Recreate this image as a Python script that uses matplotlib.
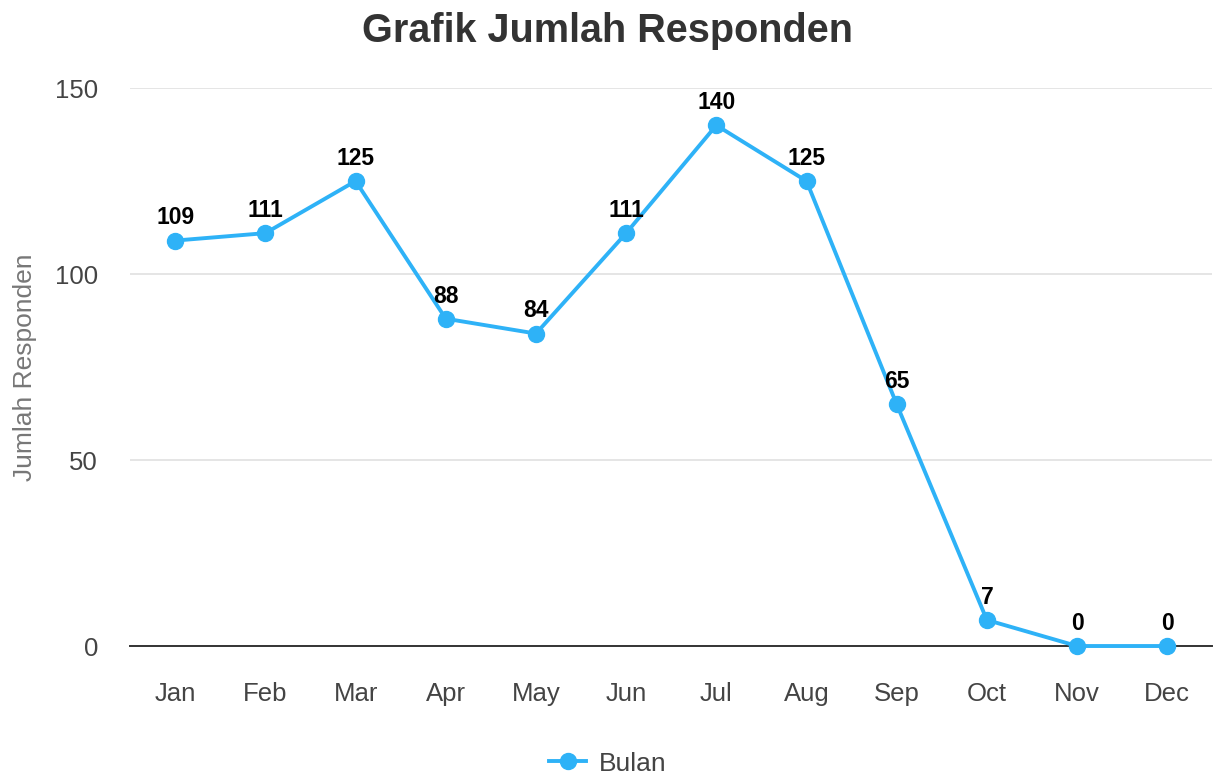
import matplotlib
matplotlib.use("Agg")
import matplotlib.pyplot as plt

months = ["Jan", "Feb", "Mar", "Apr", "May", "Jun", "Jul", "Aug", "Sep", "Oct", "Nov", "Dec"]
responden = [109, 111, 125, 88, 84, 111, 140, 125, 65, 7, 0, 0]
yticks = [0, 50, 100, 150]

plt.rcParams["font.family"] = ["Liberation Sans", "DejaVu Sans"]

color = "#2eb2f7"
fig = plt.figure(figsize=(12.16, 7.76), dpi=100)
ax = fig.add_axes([0.107, 0.1675, 0.890, 0.719])

x = range(len(months))
ax.plot(x, responden, color=color, lw=2.8, marker="o", ms=11.5,
        label="Bulan", clip_on=False, zorder=3)
for xi, v in zip(x, responden):
    ax.annotate(str(v), (xi, v), xytext=(0, 8), textcoords="offset points",
                ha="center", va="bottom", fontsize=16.5, fontweight="bold", color="black")

ax.set_xlim(-0.5, len(months) - 0.5)
ax.set_ylim(0, 150)
ax.set_yticks(yticks)
ax.set_xticks(list(x))
ax.set_xticklabels(months)
ax.tick_params(axis="both", length=0, labelsize=18.5, colors="#444444")
ax.tick_params(axis="x", pad=26)
ax.tick_params(axis="y", pad=23)
ax.grid(axis="y", color="#e0e0e0", lw=1.2)
ax.set_axisbelow(True)
for s in ["top", "right", "left"]:
    ax.spines[s].set_visible(False)
ax.spines["bottom"].set_color("#333333")
ax.spines["bottom"].set_linewidth(1.4)

ax.set_ylabel("Jumlah Responden", fontsize=19, color="#777777", labelpad=13)
fig.suptitle("Grafik Jumlah Responden", fontsize=28.5, fontweight="bold", color="#333333", y=0.985)

fig.legend(loc="lower center", bbox_to_anchor=(0.5, -0.03), frameon=False, fontsize=19,
           handlelength=1.4, handletextpad=0.5, labelcolor="#444444")

fig.savefig("out.png", dpi=100)
